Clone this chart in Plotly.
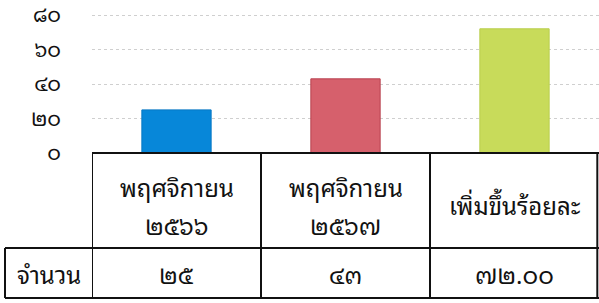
import plotly.graph_objects as go

# ---- data ----
categories = ["พฤศจิกายน ๒๕๖๖", "พฤศจิกายน ๒๕๖๗", "เพิ่มขึ้นร้อยละ"]
values = [25, 43, 72]
value_labels = ["๒๕", "๔๓", "๗๒.๐๐"]
row_label = "จำนวน"
tick_vals = [0, 20, 40, 60, 80]
tick_text = ["๐", "๒๐", "๔๐", "๖๐", "๘๐"]
bar_colors = ["#0787d9", "#d6606c", "#c8db5a"]
bar_edges = ["#0677c4", "#b8404f", "#b9cf4c"]

W, H = 599, 303
FONT = "Noto Sans Thai Looped, Noto Sans Thai, Loma, Garuda, Noto Sans, sans-serif"

x_idx = list(range(len(categories)))

fig = go.Figure()
fig.add_trace(go.Bar(
    x=x_idx, y=values, width=0.41,
    marker=dict(color=bar_colors, line=dict(color=bar_edges, width=1)),
    hoverinfo="skip",
))

def py(px):
    return 1 - px / H

# table geometry (pixels) -> paper
top_px, mid_px, bot_px = 153, 248, 298
left_px = 5

shapes = []
lc = dict(color="#111111", width=2)
shapes.append(dict(type="line", xref="x", yref="paper", x0=-0.5, x1=2.5, y0=py(top_px), y1=py(top_px), line=lc))
shapes.append(dict(type="line", xref="paper", yref="paper", x0=left_px / W, x1=1, y0=py(mid_px), y1=py(mid_px), line=lc))
shapes.append(dict(type="line", xref="paper", yref="paper", x0=left_px / W, x1=1, y0=py(bot_px), y1=py(bot_px), line=lc))
for b in [-0.5, 0.5, 1.5, 2.49]:
    shapes.append(dict(type="line", xref="x", yref="paper", x0=b, x1=b, y0=py(top_px), y1=py(bot_px), line=lc))
shapes.append(dict(type="line", xref="paper", yref="paper", x0=left_px / W, x1=left_px / W, y0=py(mid_px), y1=py(bot_px), line=lc))

annotations = []
tf = dict(family=FONT, size=24, color="#111111")
for i, c in enumerate(categories):
    parts = c.split(" ")
    if len(parts) == 2:
        annotations.append(dict(x=i, y=py(186), xref="x", yref="paper", text=parts[0], showarrow=False, font=tf, xanchor="center", yanchor="middle"))
        annotations.append(dict(x=i, y=py(224), xref="x", yref="paper", text=parts[1], showarrow=False, font=tf, xanchor="center", yanchor="middle"))
    else:
        annotations.append(dict(x=i, y=py(204), xref="x", yref="paper", text=c, showarrow=False, font=tf, xanchor="center", yanchor="middle"))
    annotations.append(dict(x=i, y=py(273), xref="x", yref="paper", text=value_labels[i], showarrow=False, font=tf, xanchor="center", yanchor="middle"))
annotations.append(dict(x=(left_px + 92) / 2 / W, y=py(273), xref="paper", yref="paper", text=row_label, showarrow=False, font=tf, xanchor="center", yanchor="middle"))

fig.update_layout(
    width=W, height=H,
    margin=dict(l=0, r=0, t=0, b=0, autoexpand=False),
    paper_bgcolor="white", plot_bgcolor="white",
    showlegend=False,
    bargap=0,
    xaxis=dict(domain=[92 / W, 1], range=[-0.5, 2.5], showticklabels=False, showgrid=False,
               zeroline=False, showline=False, ticks="", automargin=False),
    yaxis=dict(domain=[py(top_px), 1], range=[0, 80 * (top_px) / (top_px - 15)],
               tickvals=tick_vals, ticktext=tick_text, showgrid=True,
               gridcolor="#cfcfcf", gridwidth=1, griddash="dot", zeroline=False, showline=False,
               ticks="", ticklabelstandoff=30, automargin=False, ticklabeloverflow="allow",
               tickfont=dict(family=FONT, size=21, color="#111111")),
    shapes=shapes,
    annotations=annotations,
)

fig.write_html(
    "out.html",
    config={"displayModeBar": False, "staticPlot": True},
    post_script="document.body.style.margin='0';document.body.style.padding='0';document.body.style.overflow='hidden';",
)
